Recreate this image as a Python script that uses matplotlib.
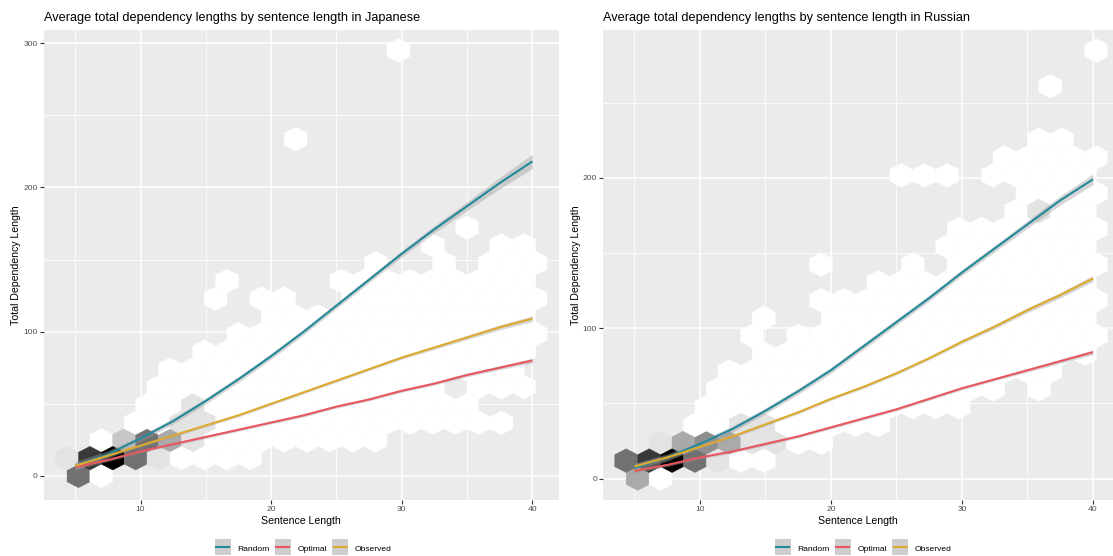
import matplotlib
matplotlib.use("Agg")
import matplotlib.pyplot as plt
import numpy as np
from matplotlib.colors import LinearSegmentedColormap
from matplotlib.lines import Line2D
from matplotlib.legend_handler import HandlerTuple

plt.rcParams['font.family'] = ['Liberation Sans', 'DejaVu Sans']

# smoothed curves, read at these sentence lengths
sent_len = [5, 7.5, 10, 12.5, 15, 17.5, 20, 22.5, 25, 27.5, 30, 32.5, 35, 37.5, 40]

jp_random = [7, 15, 26, 38, 52, 67, 83, 100, 118, 136, 154, 171, 187, 203, 218]
jp_optimal = [6, 11, 17, 22, 27, 32, 37, 42, 48, 53, 59, 64, 70, 75, 80]
jp_observed = [7, 14, 21, 28, 35, 42, 50, 58, 66, 74, 82, 89, 96, 103, 109]
jp_random_se = [3, 2.5, 2, 2, 2, 2, 2, 2, 2, 2, 2.2, 2.5, 3, 4, 5]
jp_optimal_se = [1.5, 1, 1, 1, 1, 1, 1, 1, 1, 1, 1, 1, 1.2, 1.4, 1.6]
jp_observed_se = [2, 1.5, 1, 1, 1, 1, 1, 1, 1, 1, 1, 1.2, 1.4, 1.7, 2]

ru_random = [7, 14, 23, 33, 45, 58, 72, 88, 104, 120, 137, 153, 169, 185, 199]
ru_optimal = [5, 9, 14, 18, 23, 28, 34, 40, 46, 53, 60, 66, 72, 78, 84]
ru_observed = [8, 14, 21, 28, 36, 44, 53, 61, 70, 80, 91, 101, 112, 122, 133]
ru_random_se = [3, 2.5, 2, 2, 2, 2, 2, 2, 2, 2, 2, 2.2, 2.5, 3, 3.5]
ru_optimal_se = [1.5, 1, 1, 1, 1, 1, 1, 1, 1, 1, 1, 1, 1.2, 1.4, 1.6]
ru_observed_se = [2, 1.5, 1, 1, 1, 1, 1, 1, 1, 1, 1.2, 1.4, 1.6, 1.8, 2]

# hexbin counts, one string per hex row (bottom row first), one char per hex column
# '.' = empty cell, digit = count level (0 lightest .. 9 darkest)
jp_hex_rows = [
    ".50",
    "179510000",
    "..0253100000000",
    "...00110000000000000",
    "....001000000000000",
    "....0000000000000.000",
    ".....0000000000000000",
    "......000000000000000",
    "........00000000000000",
    ".........000000000000",
    ".......0.00..000000000",
    ".......0....000000000",
    "..............0..0.000",
    "................0..00",
    "..................0",
    "", "", "", "",
    "..........0",
    "", "", "", "",
    "...............0",
]
ru_hex_rows = [
    ".30",
    "5795100",
    "..13431100",
    "...001100000",
    "....000000000000",
    "....0000000000000.0",
    ".....000000000000000",
    "......000000000000000",
    "......0.00000000000000",
    "......0..000000000000",
    ".........0000000000000",
    "...........0000000000",
    ".........0...0.0000000",
    "..............0000000",
    "...............0000000",
    ".................0100",
    "..................0000",
    "............000.00000",
    ".................00000",
    "..................00",
    "", "",
    "...................0",
    "",
    ".....................0",
]
jp_row_step = 12.29
ru_row_step = 11.86
hex_x0 = 3.5
hex_dx = 1.75

COL_RANDOM = "#23899A"
COL_OPTIMAL = "#E8575F"
COL_OBSERVED = "#DDAA2E"

hex_cmap = LinearSegmentedColormap.from_list("hexgrey", ["#FFFFFF", "#000000"])

W, H = 1113, 556
fig = plt.figure(figsize=(W / 100, H / 100), dpi=100)


def hex_points(rows, dy):
    xs, ys, cs = [], [], []
    for k, row in enumerate(rows):
        for i, c in enumerate(row):
            if c == '.':
                continue
            xs.append(hex_x0 + hex_dx * i + (hex_dx / 2 if k % 2 else 0))
            ys.append(k * dy)
            cs.append(float(c))
    return xs, ys, cs


def panel(rect, title, rows, dy, curves, xlim, ylim, yticks):
    ax = fig.add_axes(rect)
    ax.set_facecolor("#EBEBEB")
    for s in ax.spines.values():
        s.set_visible(False)

    xs, ys, cs = hex_points(rows, dy)
    ax.hexbin(xs, ys, C=cs, reduce_C_function=np.sum, gridsize=(22, 13),
              extent=(hex_x0, hex_x0 + 22 * hex_dx, 0, 26 * dy),
              cmap=hex_cmap, vmin=0, vmax=9, linewidths=0.3, edgecolors='face', zorder=2)

    x = np.array(sent_len)
    for vals, se, col in curves:
        v = np.array(vals, float)
        e = np.array(se, float)
        ax.fill_between(x, v - e, v + e, color="#999999", alpha=0.4, lw=0, zorder=3)
    for vals, se, col in curves:
        ax.plot(x, vals, color=col, lw=1.5, zorder=4, solid_capstyle='butt')

    ax.set_xticks([10, 20, 30, 40])
    ax.set_xticks([5, 15, 25, 35, 45], minor=True)
    ax.set_yticks(yticks)
    ax.set_yticks([v + 50 for v in yticks], minor=True)
    ax.set_xlim(*xlim)
    ax.set_ylim(*ylim)
    ax.grid(which='major', color='white', lw=1.1, zorder=0)
    ax.grid(which='minor', color='white', lw=0.55, zorder=0)
    ax.set_axisbelow(True)
    ax.tick_params(which='major', length=2.9, width=0.8, color='#333333',
                   labelsize=6.1, labelcolor='#4D4D4D', pad=1.6)
    ax.tick_params(which='minor', length=0)

    ax.set_title(title, loc='left', fontsize=9.2, color='black', pad=6.5)
    ax.set_xlabel("Sentence Length", fontsize=7.6)
    ax.set_ylabel("Total Dependency Length", fontsize=7.6)
    ax.xaxis.set_label_coords(0.5, -(521 - 500) / 470.4)
    ax.xaxis.label.set_va('center')
    ax.yaxis.set_label_coords(-27.5 / (rect[2] * W), 0.5)
    ax.yaxis.label.set_va('center')
    return ax


bottom = 1 - 500 / H
height = (500 - 29.6) / H

panel([43.6 / W, bottom, (559 - 43.6) / W, height],
      "Average total dependency lengths by sentence length in Japanese",
      jp_hex_rows, jp_row_step,
      [(jp_random, jp_random_se, COL_RANDOM),
       (jp_optimal, jp_optimal_se, COL_OPTIMAL),
       (jp_observed, jp_observed_se, COL_OBSERVED)],
      (2.58, 42.04), (-16.7, 309.4), [0, 100, 200, 300])

panel([603.2 / W, bottom, (1113 - 603.2) / W, height],
      "Average total dependency lengths by sentence length in Russian",
      ru_hex_rows, ru_row_step,
      [(ru_random, ru_random_se, COL_RANDOM),
       (ru_optimal, ru_optimal_se, COL_OPTIMAL),
       (ru_observed, ru_observed_se, COL_OBSERVED)],
      (2.62, 41.53), (-14.3, 298.6), [0, 100, 200])

labels = ["Random", "Optimal", "Observed"]
colors = [COL_RANDOM, COL_OPTIMAL, COL_OBSERVED]
for cx in (304, 864):
    handles = [(Line2D([], [], marker='s', markersize=12, color="#CDCDCD",
                       markeredgewidth=0, linestyle='none'),
                Line2D([], [], color=c, lw=1.5)) for c in colors]
    fig.legend(handles, labels, loc='center', bbox_to_anchor=(cx / W, 1 - 548 / H),
               ncol=3, frameon=False, fontsize=6.1, numpoints=1,
               handlelength=1.5, handleheight=1.2,
               handletextpad=0.95, columnspacing=0.85, borderpad=0,
               handler_map={tuple: HandlerTuple(ndivide=1, pad=0)})

fig.savefig("out.png", dpi=100)
